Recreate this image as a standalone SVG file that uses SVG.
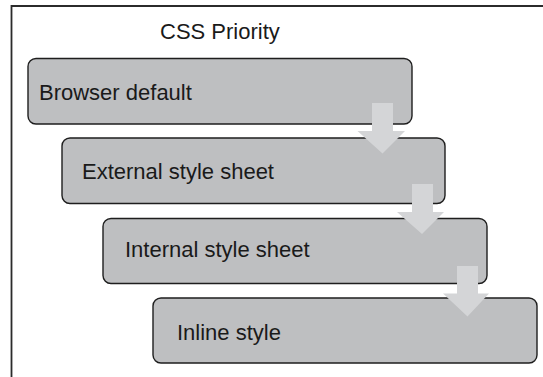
<svg xmlns="http://www.w3.org/2000/svg" width="543" height="377" viewBox="0 0 543 377">
  <defs>
    <style>
      .frame { fill: none; stroke: #2b2b2b; stroke-width: 1.8; }
      .box { fill: #bebfc1; stroke: #1e1e1e; stroke-width: 1.4; }
      .label { font-family: "Liberation Sans", Arial, sans-serif; font-size: 22px; fill: #1a1a1a; }
      .arrow { fill: #d4d5d7; stroke: none; }
    </style>
  </defs>
  <rect width="543" height="377" fill="#ffffff"/>
  <path class="frame" d="M11.5,377 L11.5,6 L543,6"/>
  <text class="label" x="160" y="39">CSS Priority</text>

  <g id="node-browser-default">
    <rect class="box" x="28" y="58.5" width="384" height="65.5" rx="8"/>
    <text class="label" x="39" y="100">Browser default</text>
  </g>
  <g id="node-external">
    <rect class="box" x="62" y="138" width="383" height="65.5" rx="8"/>
    <text class="label" x="82" y="179">External style sheet</text>
  </g>
  <g id="node-internal">
    <rect class="box" x="103" y="218.5" width="384" height="65" rx="8"/>
    <text class="label" x="125" y="257">Internal style sheet</text>
  </g>
  <g id="node-inline">
    <rect class="box" x="153" y="298" width="384" height="65" rx="8"/>
    <text class="label" x="177" y="340">Inline style</text>
  </g>

  <g id="connectors">
    <polygon class="arrow" points="372,103 393,103 393,131 405,131 382.5,153.5 357.5,131 372,131"/>
    <polygon class="arrow" points="412,184 433,184 433,212 444,212 422,234 397,212 412,212"/>
    <polygon class="arrow" points="457,266 478,266 478,293.5 489,293.5 467.5,316.5 443,293.5 457,293.5"/>
  </g>
</svg>
